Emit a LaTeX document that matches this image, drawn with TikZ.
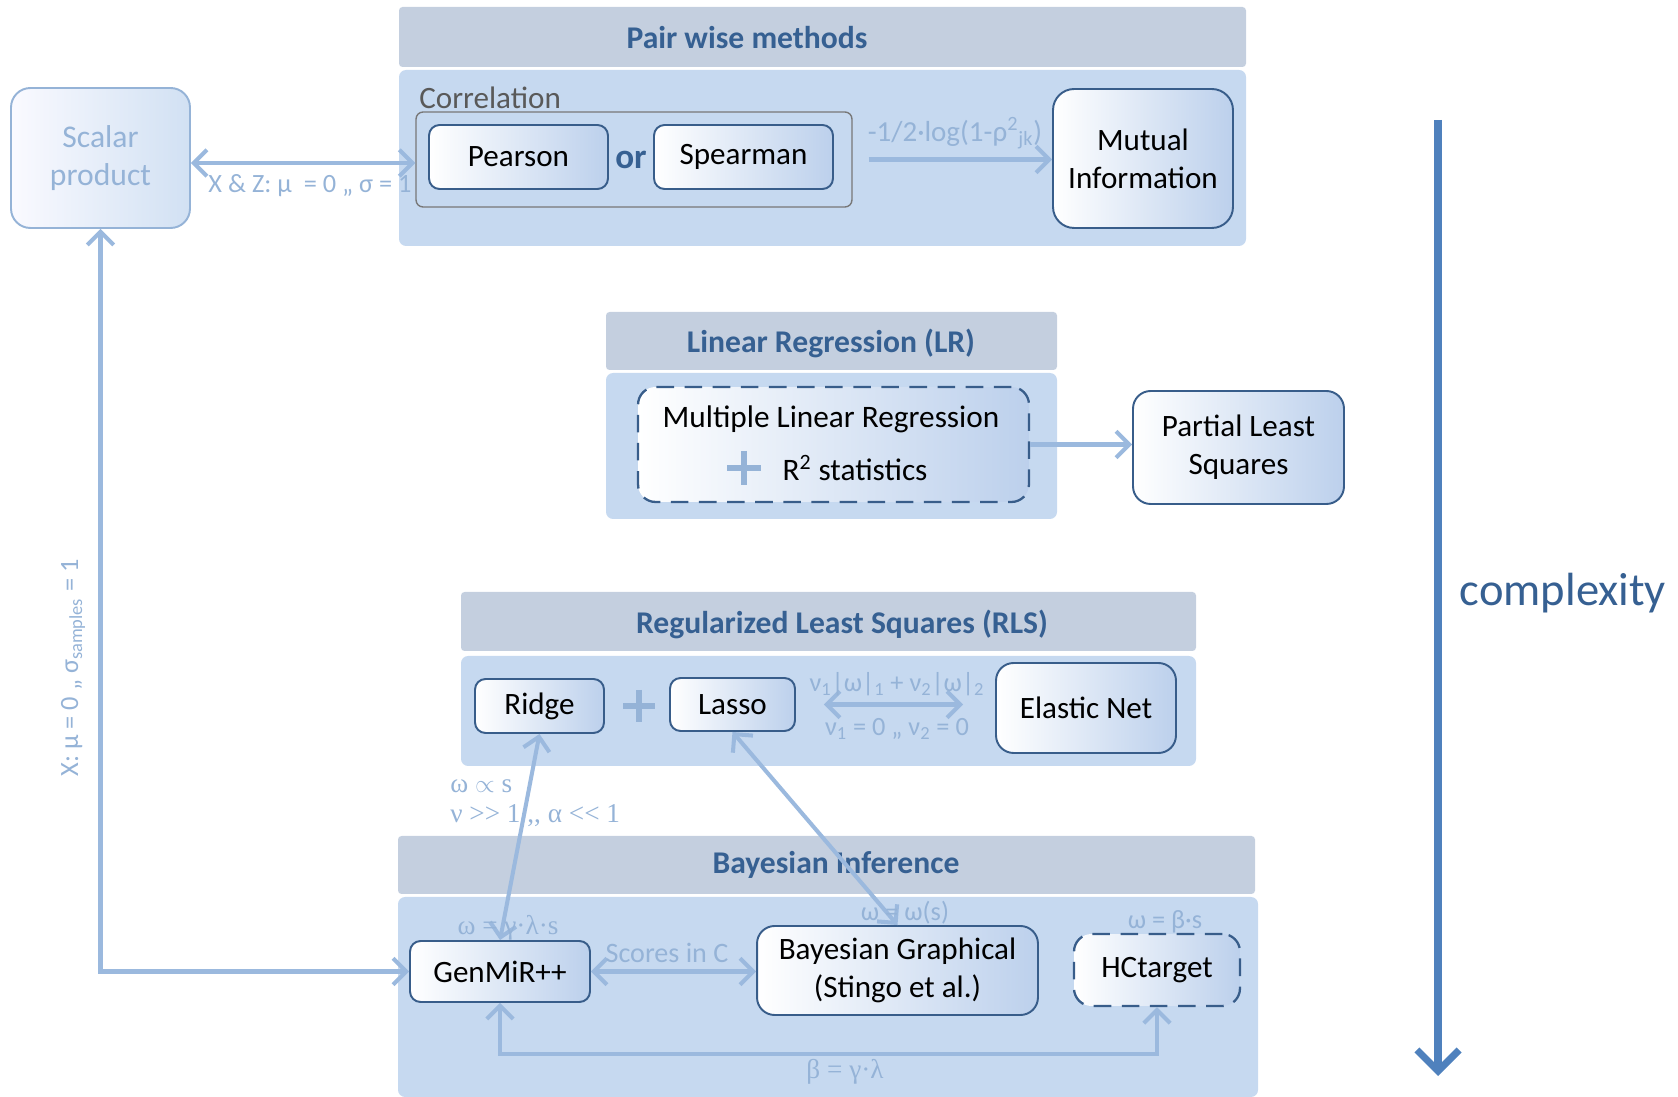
\documentclass[tikz,border=0pt]{standalone}
\usepackage{fontspec}
\setmainfont{Carlito}
\newfontfamily\serifgreek{Liberation Serif}
\usetikzlibrary{arrows.meta,calc}

\definecolor{hdrfill}{RGB}{196,207,223}
\definecolor{bodyfill}{RGB}{198,217,240}
\definecolor{hdrtext}{RGB}{54,96,146}
\definecolor{boxline}{RGB}{56,93,138}
\definecolor{boxblue}{RGB}{188,208,236}
\definecolor{lblue}{RGB}{149,179,215}
\definecolor{conncol}{RGB}{155,185,222}
\definecolor{cplx}{RGB}{79,129,189}
\definecolor{corrgray}{RGB}{89,89,89}
\definecolor{corrline}{RGB}{120,120,120}

\begin{document}
\begin{tikzpicture}[x=0.02cm,y=-0.02cm,
  panelhead/.style={fill=hdrfill, rounded corners=2pt},
  panelbody/.style={fill=bodyfill, rounded corners=4pt},
  headtext/.style={font=\fontsize{18}{22}\selectfont\bfseries, text=hdrtext, inner sep=0pt},
  method/.style={draw=boxline, line width=1.1pt, rounded corners=#1,
    left color=white, right color=boxblue,
    font=\fontsize{17.7}{21.8}\selectfont, align=center, inner sep=0pt},
  method/.default=6pt,
  dashedmethod/.style={method=#1, line width=1.3pt, dash pattern=on 10pt off 6pt},
  dashedmethod/.default=10pt,
  lbl/.style={text=lblue, font=\fontsize{15}{18}\selectfont, inner sep=0pt},
  serlbl/.style={text=lblue, font=\fontsize{15.5}{18}\serifgreek, inner sep=0pt},
  conn/.style={draw=conncol, line width=2.3pt,
    >={Straight Barb[length=7.5pt,width=15pt]}},
  plussign/.style={draw=lblue, line width=3pt},
  cplxarrow/.style={draw=cplx, line width=4pt,
    -{Straight Barb[length=12pt,width=24pt]}},
]
\useasboundingbox (0,0) rectangle (1678,1097);

% ---------------- panels ----------------
\path[panelhead] (399,7) rectangle (1246,67);
\path[panelbody] (399,70) rectangle (1246,246);
\path[panelhead] (606,312) rectangle (1057,370);
\path[panelbody] (606,373) rectangle (1057,519);
\path[panelhead] (461,592) rectangle (1196,651);
\path[panelbody] (461,656) rectangle (1196,766);
\path[panelhead] (398,836) rectangle (1255,894);
\path[panelbody] (398,897) rectangle (1258,1097);

\node[headtext] (pwtitle) at (747,38) {Pair wise methods};
\node[headtext] (lrtitle) at (831,343) {Linear Regression (LR)};
\node[headtext] (rlstitle) at (842,624) {Regularized Least Squares (RLS)};
\node[headtext] (bititle) at (836,865) {Bayesian Inference};

% ---------------- pair wise methods ----------------
\node[draw=corrline, line width=0.8pt, rounded corners=4pt,
      minimum width=8.72cm, minimum height=1.9cm] (corr) at (634,159.5) {};
\node[anchor=west, inner sep=0pt, text=corrgray,
      font=\fontsize{17.7}{21}\selectfont] (corrlabel) at (419,98) {Correlation};
\node[method, minimum width=3.58cm, minimum height=1.28cm] (pearson) at (518.5,157) {Pearson};
\node[method, minimum width=3.58cm, minimum height=1.28cm] (spearman) at (743.5,157) {Spearman};
\node[text=hdrtext, font=\fontsize{20}{24}\selectfont\bfseries, inner sep=0pt] (or) at (631,160) {or};
\node[method=12pt, minimum width=3.6cm, minimum height=2.78cm] (mutual) at (1143,158.5) {Mutual\\Information};

\node[draw=lblue, line width=1.1pt, rounded corners=11pt,
      left color=blue!2!white, right color=bodyfill!80!white,
      text=lblue, font=\fontsize{18}{22}\selectfont, align=center,
      minimum width=3.58cm, minimum height=2.8cm] (scalar) at (100.5,158) {Scalar\\product};

% ---------------- linear regression ----------------
\node[dashedmethod, minimum width=7.82cm, minimum height=2.3cm] (mlr) at (833.5,444.5) {};
\node[inner sep=0pt, font=\fontsize{17.8}{21}\selectfont] (mlrtext) at (831,419) {Multiple Linear Regression};
\node[inner sep=0pt, font=\fontsize{17.8}{21}\selectfont] (r2text) at (855,468) {R\textsuperscript{2} statistics};
\draw[plussign] (727,468) -- (761,468) (744,451) -- (744,485);
\node[method=10pt, minimum width=4.22cm, minimum height=2.26cm] (pls) at (1238.5,447.5) {Partial Least\\Squares};

% ---------------- regularized least squares ----------------
\node[method, minimum width=2.58cm, minimum height=1.08cm] (ridge) at (539.5,706) {Ridge};
\node[method, minimum width=2.5cm, minimum height=1.06cm] (lasso) at (732.5,704.5) {Lasso};
\draw[plussign] (623,706) -- (655,706) (639,690) -- (639,722);
\node[method=10pt, minimum width=3.6cm, minimum height=1.8cm] (elastic) at (1086,708) {Elastic Net};

% ---------------- bayesian inference ----------------
\node[method, minimum width=3.6cm, minimum height=1.22cm] (gen) at (500,971.5) {GenMiR++};
\node[method=10pt, minimum width=5.62cm, minimum height=1.78cm] (bayesg) at (897.5,970.5) {Bayesian Graphical\\(Stingo et al.)};
\node[dashedmethod, minimum width=3.32cm, minimum height=1.44cm] (hc) at (1157,970) {HCtarget};

% ---------------- connectors ----------------
\draw[conn,<->] ([yshift=-0.1cm]scalar.east) -- ([yshift=-0.1cm]scalar.east -| corr.west);
\draw[conn,->,shorten <=0.32cm] (corr.east) -- (corr.east -| mutual.west);
\draw[conn,->] (mlr.east) -- (mlr.east -| pls.west);
\draw[conn,<->,shorten <=0.56cm,shorten >=0.64cm] (lasso.east) -- (lasso.east -| elastic.west);
\draw[conn,<->] (ridge.south) -- (gen.north);
\draw[conn,<->] (lasso.south) -- (bayesg.north);
\draw[conn,<->] (gen.east) -- (gen.east -| bayesg.west);
\draw[conn,<->] (gen.south) -- ++(0,51) -| (hc.south);
\draw[conn,<->] (scalar.south) |- (gen.west);

% ---------------- connector labels ----------------
\node[lbl] (lxz) at (310,186) {X \& Z: μ\ \ = 0 ,, σ = 1};
\node[lbl, font=\fontsize{16.5}{19}\selectfont] (llog) at (955,133) {-1/2·log(1-ρ\textsuperscript{2}\textsubscript{jk})};
\node[lbl] (lnorm) at (897,684) {ν\textsubscript{1}|ω|\textsubscript{1} + ν\textsubscript{2}|ω|\textsubscript{2}};
\node[lbl] (lzero) at (897,729) {ν\textsubscript{1} = 0 ,, ν\textsubscript{2} = 0};
\node[serlbl, anchor=west] (lprop) at (450,786) {ω $\propto$ s};
\node[serlbl, anchor=west] (lnu) at (450,816) {ν >> 1 ,, α << 1};
\node[serlbl] (lgen) at (508,928) {ω = γ·λ·s};
\node[lbl, font=\fontsize{16}{19}\selectfont] (lscores) at (667,953) {Scores in C};
\node[lbl] (lbg) at (905,913) {ω = ω(s)};
\node[lbl] (lhc) at (1165,922) {ω = β·s};
\node[serlbl] (lbeta) at (845,1072) {β = γ·λ};
\node[lbl, rotate=90] (lx) at (73,668) {X: μ = 0 ,, σ\textsubscript{samples} = 1};

% ---------------- complexity axis ----------------
\coordinate (ctop) at (1438,120);
\coordinate (cbot) at (1438,1076);
\draw[cplxarrow] (ctop) -- (cbot);
\node[text=hdrtext, font=\fontsize{26.5}{30}\selectfont, inner sep=0pt] (cplxlabel) at (1563,593) {complexity};
\end{tikzpicture}
\end{document}
